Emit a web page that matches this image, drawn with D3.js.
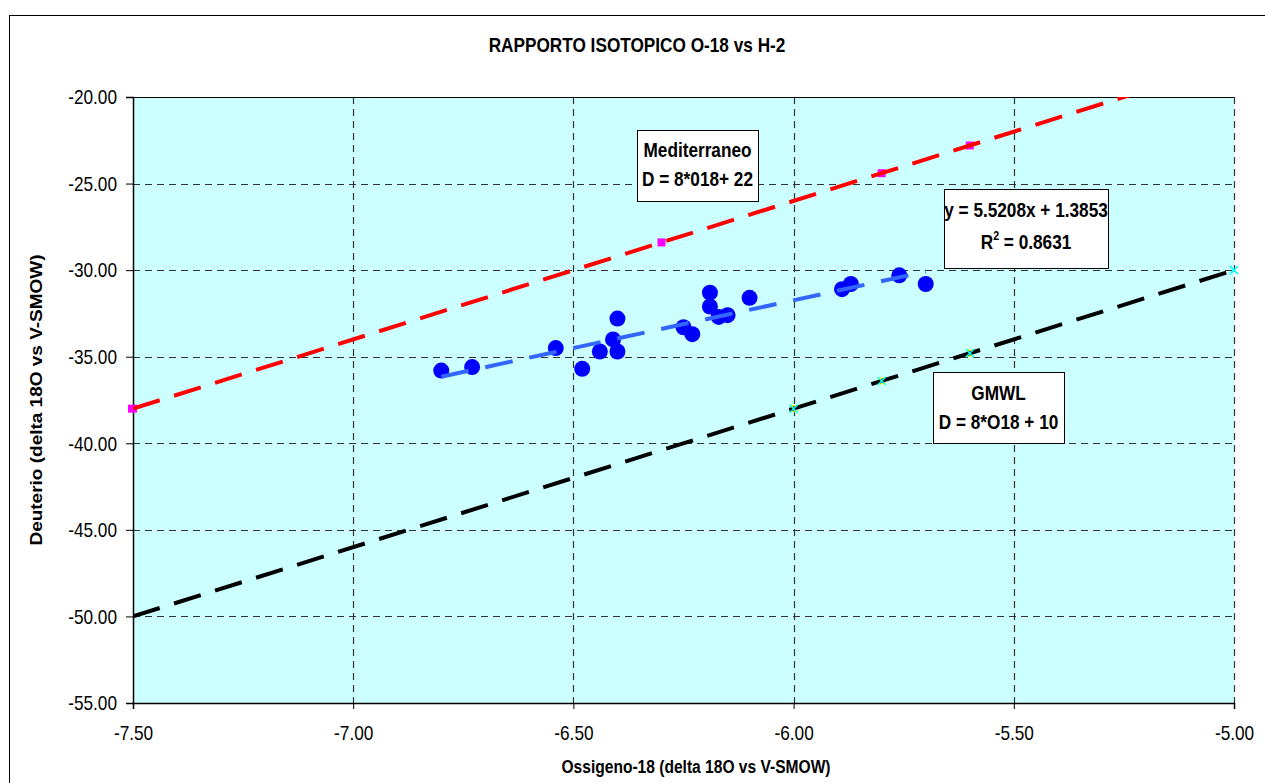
<!DOCTYPE html>
<html>
<head>
<meta charset="utf-8">
<script src="https://cdn.jsdelivr.net/npm/d3@7/dist/d3.min.js"></script>
<style>
  body { margin: 0; background: #fff; }
  text { font-family: "Liberation Sans", Arial, sans-serif; }
</style>
</head>
<body>
<div id="chart"></div>
<script>
// campioni (delta 18O, delta 2H)
const isoX = [-6.80, -6.73, -6.54, -6.48, -6.44, -6.41, -6.40, -6.40, -6.25, -6.23,
              -6.19, -6.19, -6.17, -6.15, -6.10, -5.89, -5.87, -5.76, -5.70];
const isoY = [-35.8, -35.6, -34.5, -35.7, -34.7, -34.0, -32.8, -34.7, -33.3, -33.7,
              -31.3, -32.1, -32.7, -32.6, -31.6, -31.1, -30.8, -30.3, -30.8];

// retta Mediterraneo D = 8*O18 + 22
const medX = [-7.5, -6.3, -5.8, -5.6, -5.0];
const medY = [-38.0, -28.4, -24.4, -22.8, -18.0];

// GMWL D = 8*O18 + 10
const gmwlX = [-7.5, -6.0, -5.8, -5.6, -5.0];
const gmwlY = [-50.0, -38.0, -36.4, -34.8, -30.0];

// linea di tendenza (Excel)
const trendCoef = [5.5208, 1.3853];

const xTicks = [-7.5, -7.0, -6.5, -6.0, -5.5, -5.0];
const yTicks = [-20, -25, -30, -35, -40, -45, -50, -55];

const width = 1265, height = 783;
const plot = { left: 133, top: 97, right: 1234, bottom: 703 };
const narrow = 0.82; // il grafico originale ha il testo compresso in orizzontale

const svg = d3.select("#chart").append("svg")
  .attr("width", width)
  .attr("height", height);

// testo "stretto": sposta x nel transform e scala solo in orizzontale
function squeeze(sel) {
  sel.each(function () {
    const t = d3.select(this);
    const tx = +t.attr("x") || 0, ty = +t.attr("y") || 0;
    t.attr("x", 0).attr("y", 0)
      .attr("transform", `translate(${tx},${ty}) scale(${narrow},1)`);
  });
}

// chart area border
svg.append("rect")
  .attr("x", 9.5).attr("y", 15.5)
  .attr("width", 1300).attr("height", 800)
  .attr("fill", "#fff").attr("stroke", "#000").attr("stroke-width", 1);

const x = d3.scaleLinear().domain([-7.5, -5.0]).range([plot.left, plot.right]);
const y = d3.scaleLinear().domain([-55, -20]).range([plot.bottom, plot.top]);
const fmt = d => d3.format(".2f")(d).replace("\u2212", "-");

svg.append("defs").append("clipPath").attr("id", "clip")
  .append("rect")
  .attr("x", plot.left).attr("y", plot.top)
  .attr("width", plot.right - plot.left).attr("height", plot.bottom - plot.top);

svg.append("rect")
  .attr("x", plot.left).attr("y", plot.top)
  .attr("width", plot.right - plot.left).attr("height", plot.bottom - plot.top)
  .attr("fill", "#ccffff");

// gridlines
svg.append("g").selectAll("line")
  .data(yTicks.filter(d => d > -55 && d < -20))
  .join("line")
  .attr("x1", plot.left).attr("x2", plot.right)
  .attr("y1", d => Math.round(y(d)) + 0.5).attr("y2", d => Math.round(y(d)) + 0.5)
  .attr("stroke", "#333").attr("stroke-dasharray", "7,5");

svg.append("g").selectAll("line")
  .data(xTicks.filter(d => d > -7.5))
  .join("line")
  .attr("x1", d => Math.round(x(d)) + 0.5).attr("x2", d => Math.round(x(d)) + 0.5)
  .attr("y1", plot.top).attr("y2", plot.bottom)
  .attr("stroke", "#333").attr("stroke-width", 1.2).attr("stroke-dasharray", "7,5");

// axes
const xAxis = svg.append("g")
  .attr("transform", `translate(0,${plot.bottom})`)
  .call(d3.axisBottom(x).tickValues(xTicks).tickFormat(fmt).tickSizeOuter(0).tickSize(6).tickPadding(16));
const yAxis = svg.append("g")
  .attr("transform", `translate(${plot.left},0)`)
  .call(d3.axisLeft(y).tickValues(yTicks).tickFormat(fmt).tickSizeOuter(0).tickSize(7).tickPadding(9));

[xAxis, yAxis].forEach(g => {
  g.select(".domain").attr("stroke", "#000").attr("stroke-width", 1.5);
  g.selectAll(".tick line").attr("stroke", "#000");
  g.selectAll(".tick text")
    .attr("font-family", '"Liberation Sans", Arial, sans-serif')
    .attr("font-size", 21).attr("fill", "#000")
    .call(squeeze);
});
xAxis.selectAll(".tick text").attr("dy", "0.71em");

svg.append("line")
  .attr("x1", plot.left).attr("x2", plot.right)
  .attr("y1", plot.top + 0.5).attr("y2", plot.top + 0.5)
  .attr("stroke", "#000");

const series = svg.append("g").attr("clip-path", "url(#clip)");
const markers = svg.append("g");
const line = d3.line().x(d => x(d[0])).y(d => y(d[1]));

// Mediterraneo
const medPts = medX.map((v, i) => [v, medY[i]]);
series.append("g").selectAll("rect")
  .data(medPts.slice(0, 4))
  .join("rect")
  .attr("x", d => x(d[0]) - 4).attr("y", d => y(d[1]) - 4)
  .attr("width", 8).attr("height", 8)
  .attr("fill", "#ff00ff");
series.append("path")
  .datum(medPts)
  .attr("d", line)
  .attr("fill", "none").attr("stroke", "#ff0000")
  .attr("stroke-width", 4).attr("stroke-dasharray", "28,15");
markers.append("rect")
  .datum(medPts[0])
  .attr("x", d => x(d[0]) - 5).attr("y", d => y(d[1]) - 4)
  .attr("width", 5).attr("height", 8)
  .attr("fill", "#ff00ff");

// GMWL
const gmwlPts = gmwlX.map((v, i) => [v, gmwlY[i]]);
series.append("g").selectAll("rect")
  .data(gmwlPts.slice(1, 4))
  .join("rect")
  .attr("x", d => x(d[0]) - 3.5).attr("y", d => y(d[1]) - 3.5)
  .attr("width", 7).attr("height", 7)
  .attr("fill", "#ffff00");
series.append("path")
  .datum(gmwlPts)
  .attr("d", line)
  .attr("fill", "none").attr("stroke", "#000")
  .attr("stroke-width", 4).attr("stroke-dasharray", "28,15");
markers.append("g").selectAll("path")
  .data(gmwlPts.slice(1))
  .join("path")
  .attr("d", d => {
    const cx = x(d[0]), cy = y(d[1]);
    return `M${cx - 4},${cy - 4}L${cx + 4},${cy + 4}M${cx - 4},${cy + 4}L${cx + 4},${cy - 4}`;
  })
  .attr("stroke", "#00ffff").attr("stroke-width", 1.5);

// campioni
series.append("g").selectAll("circle")
  .data(isoX.map((v, i) => [v, isoY[i]]))
  .join("circle")
  .attr("cx", d => x(d[0])).attr("cy", d => y(d[1]))
  .attr("r", 8).attr("fill", "#0000ff");

// linea di tendenza
const xr = d3.extent(isoX);
series.append("path")
  .datum(xr.map(v => [v, trendCoef[0] * v + trendCoef[1]]))
  .attr("d", line)
  .attr("fill", "none").attr("stroke", "#3366ff")
  .attr("stroke-width", 4).attr("stroke-dasharray", "28,17");

// etichette
function box(x0, y0, w, h, lines) {
  const g = svg.append("g");
  g.append("rect").attr("x", x0 + 0.5).attr("y", y0 + 0.5).attr("width", w).attr("height", h)
    .attr("fill", "#fff").attr("stroke", "#000").attr("stroke-width", 1);
  lines.forEach(l => {
    const t = g.append("text")
      .attr("x", x0 + w / 2).attr("y", l.y)
      .attr("text-anchor", "middle")
      .attr("font-size", 21).attr("font-weight", "bold");
    if (l.sup) {
      t.text(l.text[0]);
      t.append("tspan").attr("font-size", 13).attr("dy", -9).text(l.sup);
      t.append("tspan").attr("dy", 9).text(l.text.slice(1));
    } else {
      t.text(l.text);
    }
    t.call(squeeze);
  });
}
box(637, 130, 121, 71, [
  { text: "Mediterraneo", y: 157 },
  { text: "D = 8*018+ 22", y: 186 }
]);
box(944, 189, 164, 79, [
  { text: "y = 5.5208x + 1.3853", y: 217 },
  { text: "R = 0.8631", sup: "2", y: 249 }
]);
box(933, 372, 131, 71, [
  { text: "GMWL", y: 400 },
  { text: "D = 8*O18 + 10", y: 429 }
]);

// titoli
svg.append("text")
  .attr("x", 637).attr("y", 52)
  .attr("text-anchor", "middle")
  .attr("font-size", 21).attr("font-weight", "bold")
  .text("RAPPORTO ISOTOPICO O-18 vs H-2")
  .call(squeeze);

svg.append("text")
  .attr("x", 696).attr("y", 773)
  .attr("text-anchor", "middle")
  .attr("font-size", 19).attr("font-weight", "bold")
  .text("Ossigeno-18 (delta 18O vs V-SMOW)")
  .call(squeeze);

svg.append("text")
  .attr("transform", `translate(42,${(plot.top + plot.bottom) / 2}) rotate(-90) scale(1,${narrow})`)
  .attr("text-anchor", "middle")
  .attr("font-size", 19).attr("font-weight", "bold")
  .text("Deuterio (delta 18O vs V-SMOW)");
</script>
</body>
</html>
